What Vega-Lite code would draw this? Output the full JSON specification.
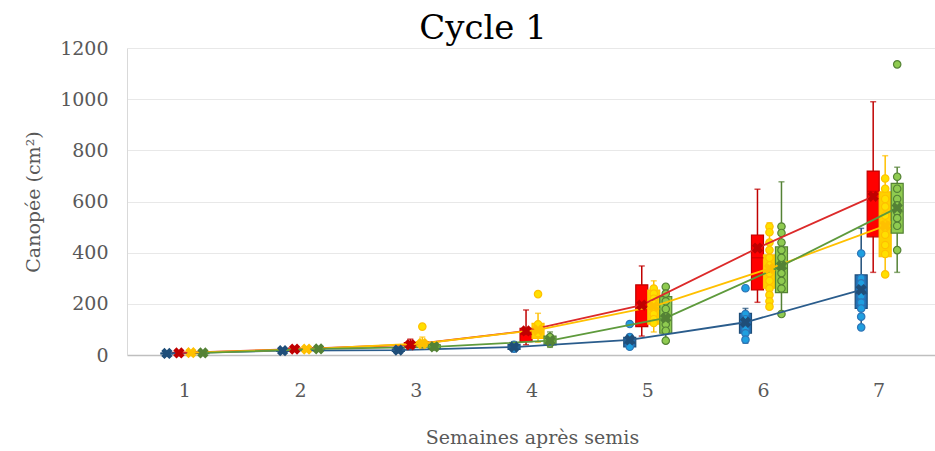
{
  "$schema": "https://vega.github.io/schema/vega-lite/v6.json",
  "autosize": {"type": "none"},
  "padding": {"left": 127, "top": 48, "right": 0, "bottom": 96},
  "width": 810,
  "height": 307,
  "background": "white",
  "title": {"text": "Cycle 1", "font": "DejaVu Serif", "fontSize": 34, "fontWeight": "normal", "color": "#000000", "anchor": "middle", "dx": -49, "offset": -7},
  "config": {"view": {"stroke": null}},
  "datasets": {
    "stats": [
      {"week": 1, "group": "T1", "lo": 2, "q1": 4, "med": 6, "q3": 8, "hi": 12, "mean": 6},
      {"week": 1, "group": "T2", "lo": 3, "q1": 5, "med": 7, "q3": 10, "hi": 14, "mean": 8},
      {"week": 1, "group": "T3", "lo": 3, "q1": 5, "med": 8, "q3": 11, "hi": 15, "mean": 9},
      {"week": 1, "group": "T4", "lo": 3, "q1": 5, "med": 7, "q3": 10, "hi": 14, "mean": 8},
      {"week": 2, "group": "T1", "lo": 10, "q1": 14, "med": 17, "q3": 20, "hi": 26, "mean": 17},
      {"week": 2, "group": "T2", "lo": 14, "q1": 19, "med": 23, "q3": 27, "hi": 33, "mean": 23},
      {"week": 2, "group": "T3", "lo": 14, "q1": 19, "med": 23, "q3": 27, "hi": 32, "mean": 23},
      {"week": 2, "group": "T4", "lo": 15, "q1": 20, "med": 24, "q3": 28, "hi": 33, "mean": 24},
      {"week": 3, "group": "T1", "lo": 8, "q1": 14, "med": 18, "q3": 24, "hi": 32, "mean": 19},
      {"week": 3, "group": "T2", "lo": 22, "q1": 30, "med": 38, "q3": 48, "hi": 62, "mean": 40},
      {"week": 3, "group": "T3", "lo": 24, "q1": 34, "med": 42, "q3": 52, "hi": 70, "mean": 45},
      {"week": 3, "group": "T4", "lo": 18, "q1": 25, "med": 32, "q3": 40, "hi": 50, "mean": 32},
      {"week": 4, "group": "T1", "lo": 13, "q1": 22, "med": 32, "q3": 42, "hi": 52, "mean": 31},
      {"week": 4, "group": "T2", "lo": 40, "q1": 52, "med": 80, "q3": 104, "hi": 176, "mean": 94},
      {"week": 4, "group": "T3", "lo": 50, "q1": 65, "med": 95, "q3": 124, "hi": 163, "mean": 98},
      {"week": 4, "group": "T4", "lo": 30, "q1": 39, "med": 55, "q3": 74, "hi": 90, "mean": 56},
      {"week": 5, "group": "T1", "lo": 25, "q1": 32, "med": 45, "q3": 69, "hi": 80, "mean": 59},
      {"week": 5, "group": "T2", "lo": 74, "q1": 111, "med": 190, "q3": 274, "hi": 348, "mean": 195},
      {"week": 5, "group": "T3", "lo": 90, "q1": 121, "med": 180, "q3": 254, "hi": 290, "mean": 190},
      {"week": 5, "group": "T4", "lo": 56, "q1": 85, "med": 150, "q3": 228, "hi": 267, "mean": 145},
      {"week": 6, "group": "T1", "lo": 46, "q1": 85, "med": 120, "q3": 163, "hi": 182, "mean": 128},
      {"week": 6, "group": "T2", "lo": 206, "q1": 254, "med": 380, "q3": 469, "hi": 648, "mean": 418},
      {"week": 6, "group": "T3", "lo": 189, "q1": 261, "med": 330, "q3": 391, "hi": 517, "mean": 338},
      {"week": 6, "group": "T4", "lo": 160, "q1": 244, "med": 340, "q3": 423, "hi": 677, "mean": 348},
      {"week": 7, "group": "T1", "lo": 108, "q1": 182, "med": 240, "q3": 313, "hi": 495, "mean": 255},
      {"week": 7, "group": "T2", "lo": 323, "q1": 462, "med": 640, "q3": 719, "hi": 990, "mean": 620},
      {"week": 7, "group": "T3", "lo": 315, "q1": 384, "med": 520, "q3": 638, "hi": 779, "mean": 505},
      {"week": 7, "group": "T4", "lo": 323, "q1": 476, "med": 560, "q3": 671, "hi": 734, "mean": 575}
    ],
    "pts": [
      {"week": 3, "group": "T3", "value": 111},
      {"week": 4, "group": "T3", "value": 238},
      {"week": 4, "group": "T3", "value": 120},
      {"week": 4, "group": "T3", "value": 85},
      {"week": 4, "group": "T4", "value": 70},
      {"week": 4, "group": "T4", "value": 45},
      {"week": 4, "group": "T1", "value": 40},
      {"week": 4, "group": "T1", "value": 25},
      {"week": 5, "group": "T1", "value": 121},
      {"week": 5, "group": "T1", "value": 70},
      {"week": 5, "group": "T1", "value": 55},
      {"week": 5, "group": "T1", "value": 45},
      {"week": 5, "group": "T1", "value": 32},
      {"week": 5, "group": "T3", "value": 260},
      {"week": 5, "group": "T3", "value": 240},
      {"week": 5, "group": "T3", "value": 220},
      {"week": 5, "group": "T3", "value": 200},
      {"week": 5, "group": "T3", "value": 180},
      {"week": 5, "group": "T3", "value": 160},
      {"week": 5, "group": "T3", "value": 140},
      {"week": 5, "group": "T3", "value": 125},
      {"week": 5, "group": "T4", "value": 267},
      {"week": 5, "group": "T4", "value": 240},
      {"week": 5, "group": "T4", "value": 210},
      {"week": 5, "group": "T4", "value": 180},
      {"week": 5, "group": "T4", "value": 150},
      {"week": 5, "group": "T4", "value": 120},
      {"week": 5, "group": "T4", "value": 95},
      {"week": 5, "group": "T4", "value": 56},
      {"week": 6, "group": "T1", "value": 261},
      {"week": 6, "group": "T1", "value": 160},
      {"week": 6, "group": "T1", "value": 140},
      {"week": 6, "group": "T1", "value": 120},
      {"week": 6, "group": "T1", "value": 100},
      {"week": 6, "group": "T1", "value": 85},
      {"week": 6, "group": "T1", "value": 60},
      {"week": 6, "group": "T3", "value": 502},
      {"week": 6, "group": "T3", "value": 480},
      {"week": 6, "group": "T3", "value": 440},
      {"week": 6, "group": "T3", "value": 410},
      {"week": 6, "group": "T3", "value": 380},
      {"week": 6, "group": "T3", "value": 350},
      {"week": 6, "group": "T3", "value": 320},
      {"week": 6, "group": "T3", "value": 290},
      {"week": 6, "group": "T3", "value": 260},
      {"week": 6, "group": "T3", "value": 235},
      {"week": 6, "group": "T3", "value": 210},
      {"week": 6, "group": "T3", "value": 189},
      {"week": 6, "group": "T4", "value": 502},
      {"week": 6, "group": "T4", "value": 477},
      {"week": 6, "group": "T4", "value": 440},
      {"week": 6, "group": "T4", "value": 410},
      {"week": 6, "group": "T4", "value": 380},
      {"week": 6, "group": "T4", "value": 350},
      {"week": 6, "group": "T4", "value": 320},
      {"week": 6, "group": "T4", "value": 290},
      {"week": 6, "group": "T4", "value": 260},
      {"week": 6, "group": "T4", "value": 160},
      {"week": 7, "group": "T1", "value": 397},
      {"week": 7, "group": "T1", "value": 300},
      {"week": 7, "group": "T1", "value": 280},
      {"week": 7, "group": "T1", "value": 255},
      {"week": 7, "group": "T1", "value": 230},
      {"week": 7, "group": "T1", "value": 205},
      {"week": 7, "group": "T1", "value": 182},
      {"week": 7, "group": "T1", "value": 150},
      {"week": 7, "group": "T1", "value": 108},
      {"week": 7, "group": "T3", "value": 690},
      {"week": 7, "group": "T3", "value": 650},
      {"week": 7, "group": "T3", "value": 610},
      {"week": 7, "group": "T3", "value": 580},
      {"week": 7, "group": "T3", "value": 545},
      {"week": 7, "group": "T3", "value": 510},
      {"week": 7, "group": "T3", "value": 470},
      {"week": 7, "group": "T3", "value": 430},
      {"week": 7, "group": "T3", "value": 395},
      {"week": 7, "group": "T3", "value": 315},
      {"week": 7, "group": "T4", "value": 1136},
      {"week": 7, "group": "T4", "value": 697},
      {"week": 7, "group": "T4", "value": 650},
      {"week": 7, "group": "T4", "value": 610},
      {"week": 7, "group": "T4", "value": 585},
      {"week": 7, "group": "T4", "value": 560},
      {"week": 7, "group": "T4", "value": 535},
      {"week": 7, "group": "T4", "value": 505},
      {"week": 7, "group": "T4", "value": 410}
    ]
  },
  "encoding": {
    "x": {
      "field": "week", "type": "ordinal",
      "scale": {"paddingInner": 0, "paddingOuter": 0},
      "axis": {
        "title": "Semaines après semis", "labelAngle": 0, "ticks": false, "grid": false,
        "domainColor": "#BFBFBF", "domainWidth": 1.5,
        "labelFont": "DejaVu Serif", "labelFontSize": 19, "labelColor": "#595959", "labelPadding": 26,
        "titleFont": "DejaVu Serif", "titleFontSize": 19, "titleFontWeight": "normal", "titleColor": "#595959", "titlePadding": 28
      }
    },
    "xOffset": {"field": "group", "type": "nominal", "scale": {"domain": ["T1", "T2", "T3", "T4"], "range": [33.9, 81.9], "paddingInner": 0, "paddingOuter": 0}}
  },
  "resolve": {"scale": {"fill": "independent", "stroke": "independent"}},
  "layer": [
    {
      "data": {"name": "stats"},
      "mark": {"type": "rule", "strokeWidth": 1.5},
      "encoding": {
        "y": {"field": "lo", "type": "quantitative",
          "scale": {"domain": [0, 1200]},
          "axis": {
            "values": [0, 200, 400, 600, 800, 1000, 1200], "format": "d", "ticks": false,
            "gridColor": "#E8E8E8", "gridWidth": 1.2, "domainColor": "#D9D9D9",
            "labelFont": "DejaVu Serif", "labelFontSize": 19, "labelColor": "#595959", "labelPadding": 19,
            "title": "Canopée (cm²)", "titleFont": "DejaVu Serif", "titleFontSize": 19, "titleFontWeight": "normal", "titleColor": "#595959", "titlePadding": 16
          }
        },
        "y2": {"field": "hi"},
        "stroke": {"field": "group", "type": "nominal", "legend": null, "scale": {"domain": ["T1", "T2", "T3", "T4"], "range": ["#1F4E79", "#C00000", "#FFC000", "#548235"]}}
      }
    },
    {
      "data": {"name": "stats"},
      "mark": {"type": "tick", "size": 6, "thickness": 1.5},
      "encoding": {
        "y": {"field": "hi", "type": "quantitative"},
        "color": {"field": "group", "type": "nominal", "legend": null, "scale": {"domain": ["T1", "T2", "T3", "T4"], "range": ["#1F4E79", "#C00000", "#FFC000", "#548235"]}}
      }
    },
    {
      "data": {"name": "stats"},
      "mark": {"type": "tick", "size": 6, "thickness": 1.5},
      "encoding": {
        "y": {"field": "lo", "type": "quantitative"},
        "color": {"field": "group", "type": "nominal", "legend": null, "scale": {"domain": ["T1", "T2", "T3", "T4"], "range": ["#1F4E79", "#C00000", "#FFC000", "#548235"]}}
      }
    },
    {
      "data": {"name": "stats"},
      "mark": {"type": "bar", "strokeWidth": 1.2},
      "encoding": {
        "y": {"field": "q1", "type": "quantitative"},
        "y2": {"field": "q3"},
        "fill": {"field": "group", "type": "nominal", "legend": null, "scale": {"domain": ["T1", "T2", "T3", "T4"], "range": ["#1F6FB5", "#FF0000", "#FFD000", "#8FCB50"]}},
        "stroke": {"field": "group", "type": "nominal", "legend": null, "scale": {"domain": ["T1", "T2", "T3", "T4"], "range": ["#1F4E79", "#C00000", "#FFC000", "#548235"]}}
      }
    },
    {
      "data": {"name": "stats"},
      "mark": {"type": "tick", "thickness": 1.2},
      "encoding": {
        "y": {"field": "med", "type": "quantitative"},
        "color": {"field": "group", "type": "nominal", "legend": null, "scale": {"domain": ["T1", "T2", "T3", "T4"], "range": ["#1F4E79", "#C00000", "#FFC000", "#548235"]}}
      }
    },
    {
      "data": {"name": "pts"},
      "mark": {"type": "point", "shape": "circle", "filled": false, "size": 55, "strokeWidth": 1.2, "opacity": 1},
      "encoding": {
        "y": {"field": "value", "type": "quantitative"},
        "fill": {"field": "group", "type": "nominal", "legend": null, "scale": {"domain": ["T1", "T2", "T3", "T4"], "range": ["#1E9FE0", "#FF0000", "#FFE000", "#8FCB50"]}},
        "stroke": {"field": "group", "type": "nominal", "legend": null, "scale": {"domain": ["T1", "T2", "T3", "T4"], "range": ["#2E75B6", "#C00000", "#FFC000", "#548235"]}}
      }
    },
    {
      "data": {"name": "stats"},
      "mark": {"type": "line", "strokeWidth": 1.8},
      "encoding": {
        "y": {"field": "mean", "type": "quantitative"},
        "stroke": {"field": "group", "type": "nominal", "legend": null, "scale": {"domain": ["T1", "T2", "T3", "T4"], "range": ["#2A5C8C", "#DC2A2A", "#FFC000", "#5E9A3C"]}},
        "order": {"field": "week", "type": "quantitative"}
      }
    },
    {
      "data": {"name": "stats"},
      "mark": {"type": "point", "shape": "cross", "angle": 45, "filled": true, "size": 130, "opacity": 1},
      "encoding": {
        "y": {"field": "mean", "type": "quantitative"},
        "fill": {"field": "group", "type": "nominal", "legend": null, "scale": {"domain": ["T1", "T2", "T3", "T4"], "range": ["#1F4E79", "#C00000", "#FFC000", "#548235"]}}
      }
    }
  ]
}
